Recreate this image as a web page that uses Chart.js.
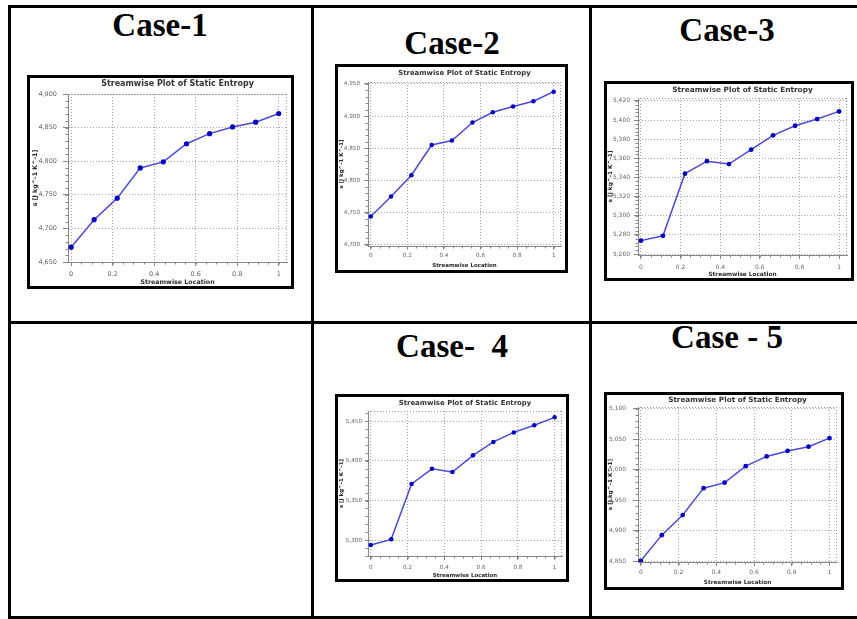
<!DOCTYPE html>
<html>
<head>
<meta charset="utf-8">
<script src="https://cdn.jsdelivr.net/npm/chart.js@4.4.1/dist/chart.umd.min.js"></script>
<style>
html,body{margin:0;padding:0;background:#fff;}
body{width:857px;height:619px;position:relative;overflow:hidden;}
.ln{position:absolute;background:#000;}
.case{position:absolute;width:200px;text-align:center;font-family:"Liberation Serif","Times New Roman",serif;font-weight:bold;font-size:33px;line-height:33px;white-space:pre;color:#000;}
.frame{position:absolute;border:3px solid #000;background:#fff;}
.frame canvas{position:absolute;left:0;top:0;}
</style>
</head>
<body>
<!-- table lines -->
<div class="ln" style="left:8px;top:5px;width:849px;height:3px"></div>
<div class="ln" style="left:8px;top:5px;width:3px;height:614px"></div>
<div class="ln" style="left:8px;top:616px;width:849px;height:3px"></div>
<div class="ln" style="left:8px;top:321px;width:849px;height:3px"></div>
<div class="ln" style="left:311px;top:5px;width:3px;height:614px"></div>
<div class="ln" style="left:589px;top:5px;width:3px;height:614px"></div>

<div class="case" style="left:60px;top:9px">Case-1</div>
<div class="case" style="left:352px;top:27px">Case-2</div>
<div class="case" style="left:627px;top:14px">Case-3</div>
<div class="case" style="left:352px;top:330px">Case-  4</div>
<div class="case" style="left:627px;top:321px">Case - 5</div>

<div class="frame" style="left:27px;top:75px;width:261px;height:208px"><canvas id="c1" width="261" height="208"></canvas></div>
<div class="frame" style="left:335px;top:64px;width:227px;height:203px"><canvas id="c2" width="227" height="203"></canvas></div>
<div class="frame" style="left:604px;top:81px;width:244px;height:194px"><canvas id="c3" width="244" height="194"></canvas></div>
<div class="frame" style="left:335px;top:394px;width:228px;height:182px"><canvas id="c4" width="228" height="182"></canvas></div>
<div class="frame" style="left:604px;top:392px;width:234px;height:192px"><canvas id="c5" width="234" height="192"></canvas></div>

<script>
// streamwise locations (same for every case)
const xLocation = [0, 0.111, 0.222, 0.333, 0.444, 0.556, 0.667, 0.778, 0.889, 1];
const xTicks = [0, 0.2, 0.4, 0.6, 0.8, 1];

// static entropy s [J kg^-1 K^-1]
const case1Entropy = [4672, 4713, 4745, 4790, 4799, 4826, 4841, 4851, 4858, 4871];
const case2Entropy = [4744, 4775, 4808, 4855, 4862, 4890, 4906, 4915, 4923, 4938];
const case3Entropy = [5274, 5279, 5344, 5357, 5354, 5369, 5384, 5394, 5401, 5409];
const case4Entropy = [5294, 5301, 5371, 5390, 5386, 5407, 5424, 5436, 5445, 5455];
const case5Entropy = [4851, 4893, 4926, 4970, 4979, 5006, 5022, 5031, 5038, 5052];

// y tick labels
const case1Ticks = [4650, 4700, 4750, 4800, 4850, 4900];
const case2Ticks = [4700, 4750, 4800, 4850, 4900, 4950];
const case3Ticks = [5260, 5280, 5300, 5320, 5340, 5360, 5380, 5400, 5420];
const case4Ticks = [5300, 5350, 5400, 5450];
const case5Ticks = [4850, 4900, 4950, 5000, 5050, 5100];

// y axis ranges
const case1Range = [4650, 4900];
const case2Range = [4698, 4953];
const case3Range = [5259, 5423];
const case4Range = [5280, 5463];
const case5Range = [4849, 5103];

const TITLE = 'Streamwise Plot of Static Entropy';

// dotted top/right plot edge + minor ticks
const plotEdges = {
  id: 'plotEdges',
  beforeDatasetsDraw(chart) {
    const {ctx, chartArea: a, scales} = chart;
    ctx.save();
    ctx.strokeStyle = '#999';
    ctx.lineWidth = 1;
    ctx.setLineDash([1, 2]);
    ctx.beginPath();
    ctx.moveTo(a.left, a.top + 0.5); ctx.lineTo(a.right, a.top + 0.5);
    ctx.moveTo(a.right - 0.5, a.top); ctx.lineTo(a.right - 0.5, a.bottom);
    ctx.stroke();
    ctx.setLineDash([]);
    ctx.strokeStyle = '#888';
    ctx.beginPath();
    const xs = scales.x, ys = scales.y;
    for (let v = 0; v <= 1.0001; v += 0.05) {
      const px = Math.round(xs.getPixelForValue(v)) + 0.5;
      ctx.moveTo(px, a.bottom); ctx.lineTo(px, a.bottom + 2.5);
    }
    const yt = ys.ticks;
    const step = (yt[1].value - yt[0].value) / 5;
    for (let v = Math.ceil(ys.min / step) * step; v <= ys.max; v += step) {
      const py = Math.round(ys.getPixelForValue(v)) + 0.5;
      ctx.moveTo(a.left, py); ctx.lineTo(a.left - 2.5, py);
    }
    ctx.stroke();
    ctx.restore();
  }
};

function drawCase(id, values, yTicks, yRange, k, lay) {
  const titleSize = 8 * k, tickSize = 6.5 * k, axisSize = 6.3 * k;
  const pts = xLocation.map((x, i) => ({x: x, y: values[i]}));
  new Chart(document.getElementById(id), {
    type: 'line',
    data: {datasets: [{
      data: pts,
      borderColor: '#4a4ad4',
      borderWidth: 1.5,
      pointRadius: 2.6 * k,
      pointBackgroundColor: '#0000c8',
      pointBorderWidth: 0,
      tension: 0
    }]},
    options: {
      responsive: false,
      animation: false,
      events: [],
      layout: {padding: {left: 0, right: lay.padR, top: 0, bottom: 0}},
      plugins: {
        legend: {display: false},
        tooltip: {enabled: false},
        title: {
          display: true, fullSize: false, text: TITLE, color: '#333',
          font: {family: 'DejaVu Sans', size: titleSize, weight: 'bold', lineHeight: 1.2},
          padding: {top: lay.titleTop, bottom: lay.top - titleSize * 1.2 - lay.titleTop}
        }
      },
      scales: {
        x: {
          type: 'linear', min: -0.015, max: 1.04,
          afterBuildTicks: s => { s.ticks = xTicks.map(v => ({value: v})); },
          afterFit: s => { s.height = lay.xH; },
          ticks: {color: '#666', font: {family: 'DejaVu Sans', size: tickSize}, padding: lay.xPad, maxRotation: 0,
                  callback: v => String(v)},
          grid: {color: '#a4a4a4', tickColor: '#888', tickLength: lay.xTl},
          border: {color: '#888', width: 1, dash: [1, 2]},
          title: {display: true, text: 'Streamwise Location', color: '#2a2a2a',
                  font: {family: 'DejaVu Sans', size: axisSize, weight: 'bold', lineHeight: 1.2},
                  padding: {top: 0, bottom: lay.xtPad}}
        },
        y: {
          min: yRange[0], max: yRange[1],
          afterBuildTicks: s => { s.ticks = yTicks.map(v => ({value: v})); },
          afterFit: s => { s.width = lay.yW; },
          ticks: {color: '#666', font: {family: 'DejaVu Sans', size: tickSize}, padding: lay.yPad,
                  callback: v => v.toLocaleString('en-US')},
          grid: {color: '#a4a4a4', tickColor: '#888', tickLength: lay.yTl},
          border: {color: '#888', width: 1, dash: [1, 2]},
          title: {display: true, text: 's [J kg^-1 K^-1]', color: '#2a2a2a',
                  font: {family: 'DejaVu Sans', size: axisSize, weight: 'bold', lineHeight: 1.2},
                  padding: {top: lay.ytPad, bottom: 0}}
        }
      }
    },
    plugins: [plotEdges]
  });
}

drawCase('c1', case1Entropy, case1Ticks, case1Range, 1.0,
  {padR: 1, top: 16, titleTop: 1.5, xH: 24, yW: 38, xTl: 4, xPad: 4, yTl: 5, yPad: 6, ytPad: 1.2, xtPad: 0});
drawCase('c2', case2Entropy, case2Ticks, case2Range, 0.87,
  {padR: 3, top: 15, titleTop: 1.8, xH: 24, yW: 30, xTl: 3.5, xPad: 3, yTl: 4, yPad: 4, ytPad: 0.7, xtPad: 0.7});
drawCase('c3', case3Entropy, case3Ticks, case3Range, 0.92,
  {padR: 3, top: 14, titleTop: 1.6, xH: 23, yW: 31, xTl: 4, xPad: 4.4, yTl: 4, yPad: 4, ytPad: 0.5, xtPad: 0});
drawCase('c4', case4Entropy, case4Ticks, case4Range, 0.87,
  {padR: 4, top: 14, titleTop: 1.8, xH: 23, yW: 30, xTl: 4, xPad: 4.5, yTl: 3, yPad: 3, ytPad: 0, xtPad: 0});
drawCase('c5', case5Entropy, case5Ticks, case5Range, 0.91,
  {padR: 1, top: 12, titleTop: 0.6, xH: 25, yW: 31, xTl: 4, xPad: 3.4, yTl: 5, yPad: 7, ytPad: 0, xtPad: 1.5});
</script>
</body>
</html>
